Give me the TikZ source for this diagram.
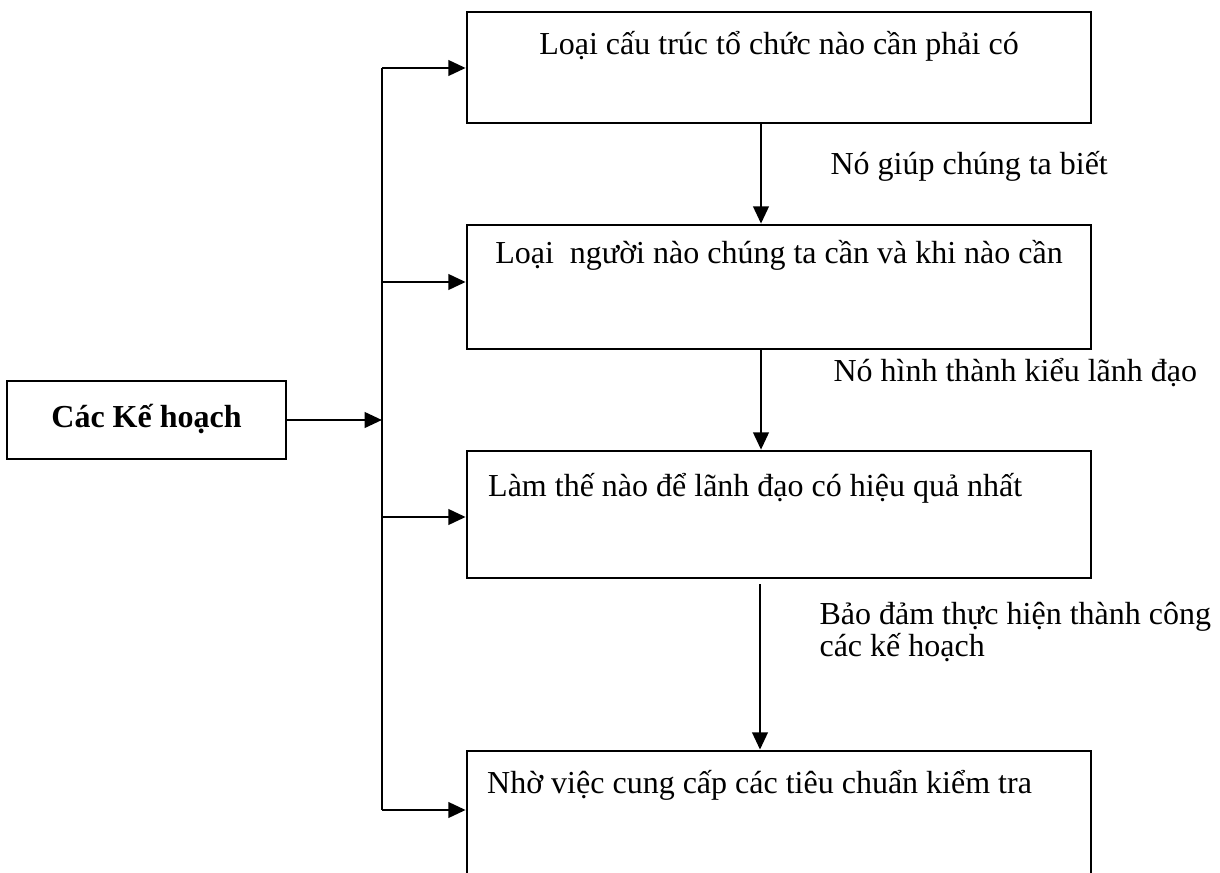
\documentclass[tikz,border=0pt]{standalone}
\usepackage{fontspec}
\setmainfont{Liberation Serif}
\usetikzlibrary{positioning,arrows.meta,calc}
\tikzset{
  hop/.style={draw=black,line width=1pt,minimum width=234pt,inner sep=0pt},
  chu/.style={font=\fontsize{12}{11.7}\selectfont,inner sep=0pt,align=left},
  mui/.style={-{Triangle[length=6.5pt,width=5.8pt]},line width=1pt},
  day/.style={line width=1pt},
}

\begin{document}
\begin{tikzpicture}[x=0.375pt,y=-0.375pt,
  goc/.style={hop,minimum width=104.6pt,minimum height=29.25pt}]
  \clip (0,0) rectangle (1220,873);
  \node[goc] (kh) at (146.5,420) {};
  \node[chu,anchor=base,font=\bfseries\fontsize{12}{14}\selectfont] (tkh) at ($(kh.center)+(0,8)$) {Các Kế hoạch};
  \node[hop,minimum height=41.6pt] (b1) at (779,67.5) {};
  \node[hop,minimum height=46.5pt] (b2) at (779,287) {};
  \node[hop,minimum height=47.6pt] (b3) at (779,514.5) {};
  \node[hop,minimum height=55.9pt] (b4) at (779,825.5) {};
  \node[chu,anchor=base] (t1) at ($(b1.north)+(0,44)$) {Loại cấu trúc tổ chức nào cần phải có};
  \node[chu,anchor=base] (t2) at ($(b2.north)+(0,40)$) {Loại\ \ người nào chúng ta cần và khi nào cần};
  \node[chu,anchor=base west] (t3) at ($(b3.north west)+(22,47)$) {Làm thế nào để lãnh đạo có hiệu quả nhất};
  \node[chu,anchor=base west] (t4) at ($(b4.north west)+(21,44)$) {Nhờ việc cung cấp các tiêu chuẩn kiểm tra};
  \node[chu,anchor=base west] (n1) at (830,175) {Nó giúp chúng ta biết};
  \node[chu,anchor=base west] (n2) at (833,381) {Nó hình thành kiểu lãnh đạo};
  \node[chu,anchor=base west] (n3) at (819,656) {Bảo đảm thực hiện thành công\\các kế hoạch};
  \coordinate (bt) at (382,68);
  \coordinate (bb) at (382,810);
  \coordinate (r2) at (382,282);
  \coordinate (r3) at (382,517);
  \draw[day] (bt) -- (bb);
  \draw[mui] (kh.east) -- (kh.east -| bt);
  \draw[mui] (bt) -- (bt -| b1.west);
  \draw[mui] (r2) -- (r2 -| b2.west);
  \draw[mui] (r3) -- (r3 -| b3.west);
  \draw[mui] (bb) -- (bb -| b4.west);
  \draw[mui] ($(b1.south)+(-18,0)$) -- ($(b2.north)+(-18,0)$);
  \draw[mui] ($(b2.south)+(-18,0)$) -- ($(b3.north)+(-18,0)$);
  \draw[mui] ($(b3.south)+(-19,5)$) -- ($(b4.north)+(-19,0)$);
\end{tikzpicture}
\end{document}
